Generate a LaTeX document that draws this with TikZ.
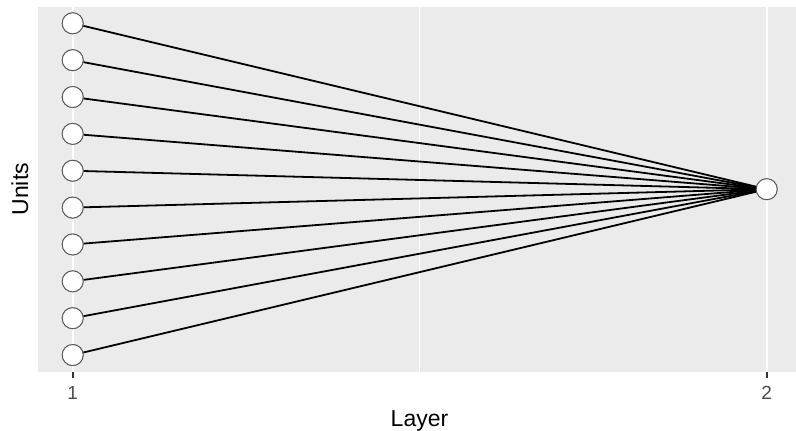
\documentclass[tikz,border=0pt]{standalone}
\usepackage{fontspec}
\setmainfont{Liberation Sans}
\begin{document}
\begin{tikzpicture}[x=1pt,y=-1pt,
  unit/.style={circle,draw=black!65,line width=0.9pt,fill=white,minimum size=21pt,inner sep=0pt},
  link/.style={draw=black,line width=1.8pt},
  majorgrid/.style={draw=white,line width=2.2pt},
  minorgrid/.style={draw=white,line width=1.1pt},
  tick/.style={draw=black!80,line width=1.6pt},
  ticklabel/.style={text=black!70,font=\fontsize{19}{19}\selectfont,anchor=base,inner sep=0pt},
  axistitle/.style={text=black,font=\fontsize{23}{23}\selectfont,anchor=base,inner sep=0pt}]
\useasboundingbox (0,0) rectangle (796,431);
% panel and grid
\fill[fill={rgb,255:red,235;green,235;blue,235}] (37.7,6.7) rectangle (796,371.7);
\draw[minorgrid] (419.7,6.7) -- (419.7,371.7);
\draw[majorgrid] (72.7,6.7) -- (72.7,371.7);
\draw[majorgrid] (766.7,6.7) -- (766.7,371.7);
% axis ticks and labels
\coordinate (t1a) at (72.7,371.7); \coordinate (t1b) at (72.7,377.7);
\coordinate (t2a) at (766.7,371.7); \coordinate (t2b) at (766.7,377.7);
\draw[tick] (t1a) -- (t1b);
\draw[tick] (t2a) -- (t2b);
\node[ticklabel] (lab1) at (72.7,399) {1};
\node[ticklabel] (lab2) at (766.7,399) {2};
\node[axistitle] (xtitle) at (419.5,426) {Layer};
\node[axistitle,rotate=90] (ytitle) at (28,189.2) {Units};
% units of layer 1 and layer 2
\foreach \i in {0,...,9} {
  \node[unit] (u\i) at (72.7,{23.3+\i*36.86}) {};
}
\node[unit] (out) at (766.7,189.2) {};
\foreach \i in {0,...,9} {
  \draw[link] (u\i) -- (out);
}
\foreach \i in {0,...,9} {
  \node[unit] at (u\i) {};
}
\node[unit] at (out) {};
\end{tikzpicture}
\end{document}
